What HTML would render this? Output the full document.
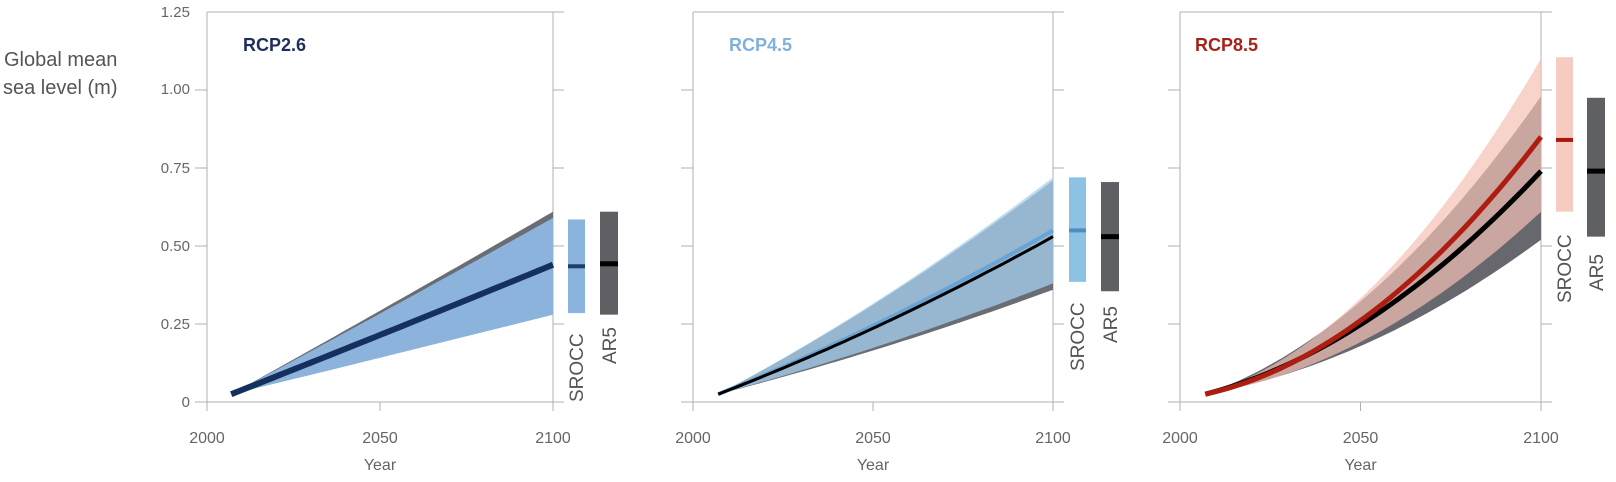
<!DOCTYPE html>
<html><head><meta charset="utf-8"><style>
html,body{margin:0;padding:0;background:#fff;}
svg{display:block;font-family:"Liberation Sans",sans-serif;}
</style></head><body>
<svg id="s" width="1616" height="482" viewBox="0 0 1616 482" xmlns="http://www.w3.org/2000/svg">
<text x="4" y="66" font-size="20" fill="#555">Global mean</text>
<text x="3" y="94" font-size="20" fill="#555">sea level (m)</text>
<g font-size="15" fill="#666" text-anchor="end">
<text x="190" y="17">1.25</text><text x="190" y="94">1.00</text><text x="190" y="173">0.75</text>
<text x="190" y="251">0.50</text><text x="190" y="329">0.25</text><text x="190" y="407">0</text>
</g>
</svg>
<script>
var s=document.getElementById('s'),NS='http://www.w3.org/2000/svg';
function el(t,a,txt){var e=document.createElementNS(NS,t);for(var k in a)e.setAttribute(k,a[k]);if(txt)e.textContent=txt;s.appendChild(e);return e;}
var Y0=402,PM=312;function Y(v){return Y0-v*PM;}
function panel(p){
 var L=p.L,R=p.R,W=R-L;function X(yr){return L+(yr-2000)/100*W;}
 var g='#b0b0b0';
 el('line',{x1:L,y1:12,x2:R+11,y2:12,stroke:g});
 el('line',{x1:L,y1:12,x2:L,y2:411,stroke:g});
 el('line',{x1:R,y1:12,x2:R,y2:411,stroke:g});
 el('line',{x1:L-12,y1:Y0,x2:R+11,y2:Y0,stroke:g});
 [0.25,0.5,0.75,1.0].forEach(function(v){el('line',{x1:L-12,y1:Y(v),x2:L,y2:Y(v),stroke:g});el('line',{x1:R,y1:Y(v),x2:R+11,y2:Y(v),stroke:g});});
 el('line',{x1:X(2050),y1:Y0,x2:X(2050),y2:411,stroke:g});
 [['2000',2000],['2050',2050],['2100',2100]].forEach(function(a){el('text',{x:X(a[1]),y:443,'font-size':16,fill:'#666','text-anchor':'middle'},a[0]);});
 el('text',{x:X(2050),y:470,'font-size':16,fill:'#666','text-anchor':'middle'},'Year');
 el('text',{x:L+p.lx,y:51,'font-size':18,'font-weight':'bold',fill:p.lc},p.label);
 function curve(E,b,c){var pts=[];for(var i=0;i<=40;i++){var sv=i/40,yr=2007+93*sv;var f=(b*sv+c*sv*sv)/(b+c);pts.push([X(yr),Y(0.025+(E-0.025)*f)]);}return pts;}
 function band(U,Lo,b,c,col,op){var u=curve(U,b,c),l=curve(Lo,b,c).reverse();var d='M'+u.map(function(q){return q[0].toFixed(1)+','+q[1].toFixed(1)}).join(' L')+' L'+l.map(function(q){return q[0].toFixed(1)+','+q[1].toFixed(1)}).join(' L')+'Z';el('path',{d:d,fill:col,'fill-opacity':op||1});}
 function line(E,b,c,col,w){var u=curve(E,b,c);el('polyline',{points:u.map(function(q){return q[0].toFixed(1)+','+q[1].toFixed(1)}).join(' '),fill:'none',stroke:col,'stroke-width':w});}
 p.draw(band,line);
 var sb=p.sb,ab=p.ab;
 el('rect',{x:sb.x,y:Y(sb.hi),width:17,height:Y(sb.lo)-Y(sb.hi),fill:sb.c});
 el('rect',{x:sb.x,y:Y(sb.m)-2,width:17,height:4,fill:sb.mc});
 el('rect',{x:ab.x,y:Y(ab.hi),width:18,height:Y(ab.lo)-Y(ab.hi),fill:'#5f6064'});
 el('rect',{x:ab.x,y:Y(ab.m)-2.5,width:18,height:5,fill:'#000'});
 el('text',{x:0,y:0,'font-size':19,fill:'#555','transform':'translate('+(sb.x+15)+','+p.st+') rotate(-90)'},'SROCC');
 el('text',{x:0,y:0,'font-size':19,fill:'#555','transform':'translate('+(ab.x+16)+','+p.at+') rotate(-90)'},'AR5');
}
panel({L:207,R:553,lx:36,label:'RCP2.6',lc:'#1e2d5a',
 sb:{x:568,hi:0.585,lo:0.285,m:0.435,c:'#8ab3de',mc:'#1d3f6e'},ab:{x:600,hi:0.61,lo:0.28,m:0.443},st:402,at:364,
 draw:function(band,line){band(0.61,0.33,1,0.02,'#6a6d74');band(0.59,0.28,1,0.02,'#8cb3dc');line(0.44,1,0.02,'#15305c',6);}});
panel({L:693,R:1053,lx:36,label:'RCP4.5',lc:'#7fb1dc',
 sb:{x:1069,hi:0.72,lo:0.385,m:0.55,c:'#8cc3e4',mc:'#4f8cc0'},ab:{x:1101,hi:0.705,lo:0.355,m:0.53},st:371,at:343,
 draw:function(band,line){band(0.71,0.36,0.415,0.09,'#6a6d74');band(0.72,0.38,0.415,0.09,'#a6d0ee',0.75);line(0.55,0.415,0.09,'#6aa4d4',4);line(0.53,0.415,0.09,'#000',3);}});
panel({L:1180,R:1541,lx:15,label:'RCP8.5',lc:'#a3231a',
 sb:{x:1556,hi:1.105,lo:0.61,m:0.84,c:'#f6cbc1',mc:'#a8180e'},ab:{x:1587,hi:0.975,lo:0.53,m:0.74},st:303,at:291,
 draw:function(band,line){band(0.98,0.52,0.281,0.434,'#66686e');band(1.1,0.61,0.239,0.586,'#f4c0b4',0.7);line(0.74,0.281,0.434,'#000',5);line(0.85,0.239,0.586,'#ad1d12',5);}});
</script>
</body></html>
